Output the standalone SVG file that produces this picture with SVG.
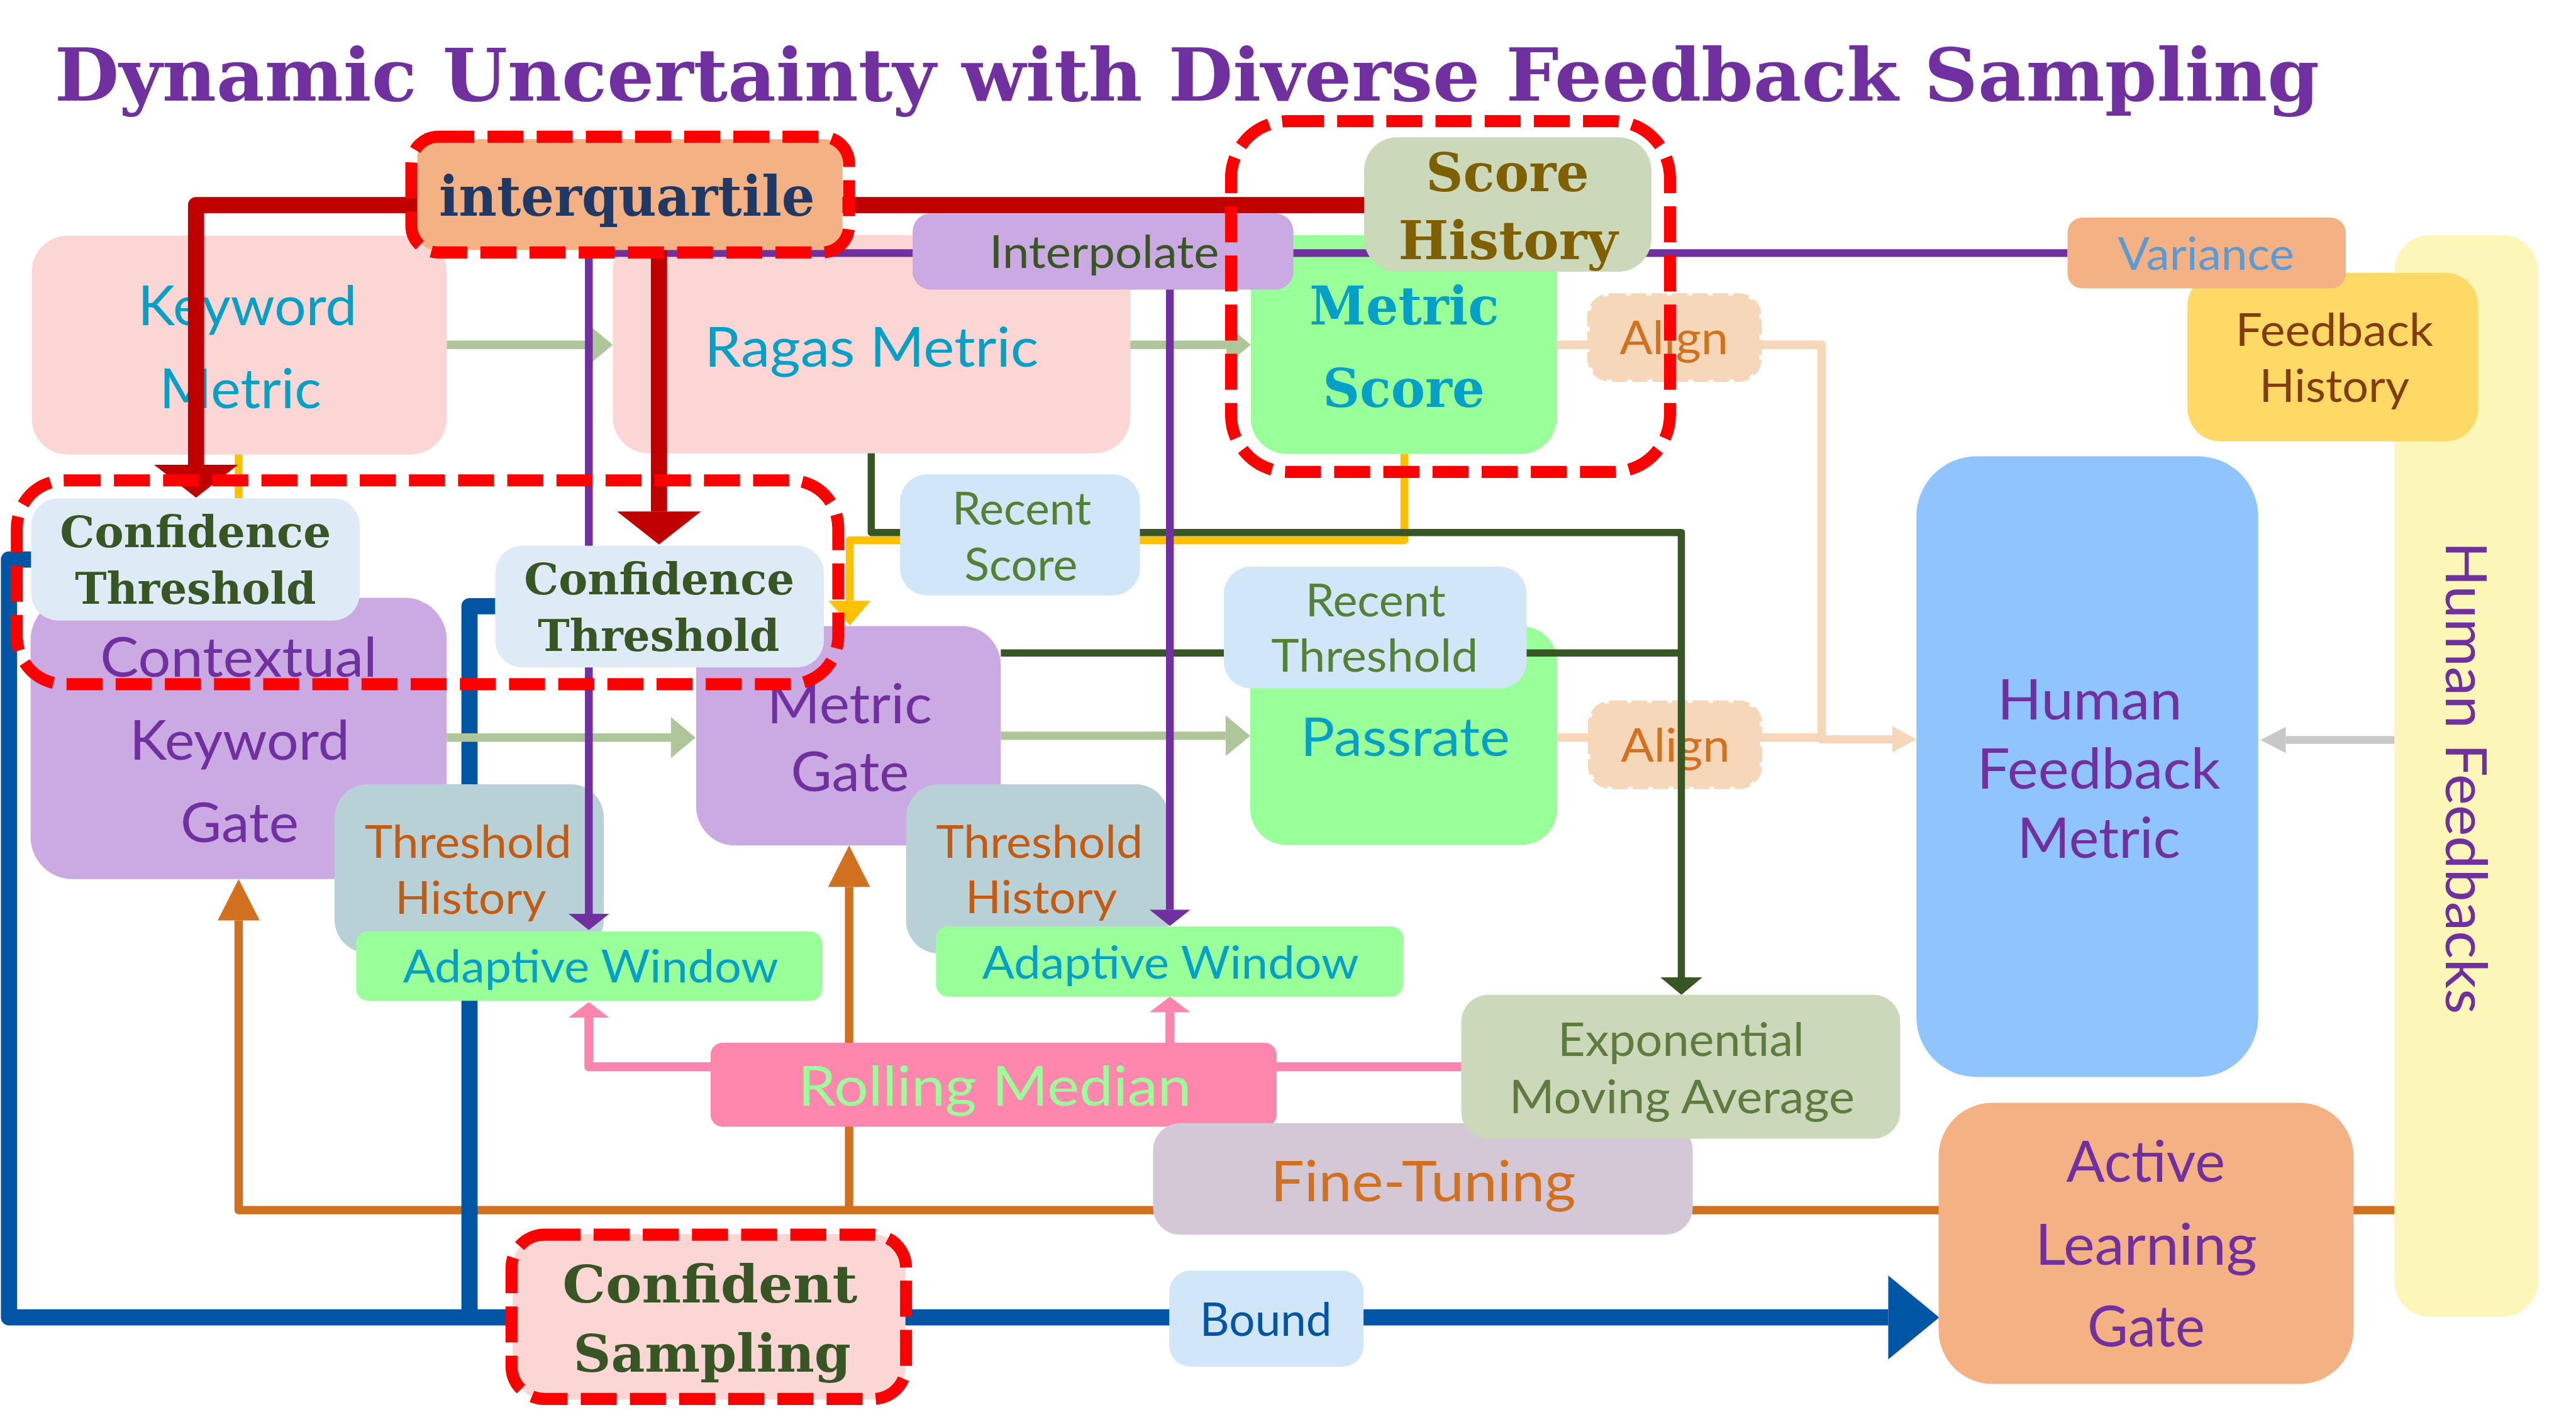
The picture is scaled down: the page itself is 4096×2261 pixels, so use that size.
<svg xmlns="http://www.w3.org/2000/svg" width="4096" height="2261" viewBox="0 0 4096 2261">
<style>
.r{font-family:"Lato","Noto Sans",sans-serif;}
.b{font-family:"DejaVu Serif","Liberation Serif",serif;font-weight:bold;}
.ln{fill:none;stroke-linejoin:round;}
.hl{fill:none;stroke:#FF0000;stroke-width:20;stroke-dasharray:60 22;}
</style>
<defs>
<marker id="aRed" markerUnits="userSpaceOnUse" markerWidth="56" markerHeight="140" refX="0" refY="70" orient="auto" overflow="visible"><path d="M0,0 L55,70 L0,140 z" fill="#C00000"/></marker>
<marker id="aPur" markerUnits="userSpaceOnUse" markerWidth="28" markerHeight="68" refX="0" refY="34" orient="auto" overflow="visible"><path d="M0,0 L27,34 L0,68 z" fill="#7030A0"/></marker>
<marker id="aYel" markerUnits="userSpaceOnUse" markerWidth="42" markerHeight="70" refX="0" refY="35" orient="auto" overflow="visible"><path d="M0,0 L41,35 L0,70 z" fill="#FFC000"/></marker>
<marker id="aSage" markerUnits="userSpaceOnUse" markerWidth="42" markerHeight="68" refX="0" refY="34" orient="auto" overflow="visible"><path d="M0,0 L41,34 L0,68 z" fill="#AFC69A"/></marker>
<marker id="aDG" markerUnits="userSpaceOnUse" markerWidth="30" markerHeight="70" refX="0" refY="35" orient="auto" overflow="visible"><path d="M0,0 L29,35 L0,70 z" fill="#375623"/></marker>
<marker id="aPeach" markerUnits="userSpaceOnUse" markerWidth="40" markerHeight="44" refX="0" refY="22" orient="auto" overflow="visible"><path d="M0,0 L40,22 L0,44 z" fill="#F6D7BA"/></marker>
<marker id="aGray" markerUnits="userSpaceOnUse" markerWidth="42" markerHeight="44" refX="0" refY="22" orient="auto" overflow="visible"><path d="M0,0 L42,22 L0,44 z" fill="#C8C8C8"/></marker>
<marker id="aOr" markerUnits="userSpaceOnUse" markerWidth="70" markerHeight="70" refX="0" refY="35" orient="auto" overflow="visible"><path d="M0,0 L69,35 L0,70 z" fill="#D1701F"/></marker>
<marker id="aPink" markerUnits="userSpaceOnUse" markerWidth="27" markerHeight="68" refX="0" refY="34" orient="auto" overflow="visible"><path d="M0,0 L26,34 L0,68 z" fill="#FF85AE"/></marker>
<marker id="aBlue" markerUnits="userSpaceOnUse" markerWidth="86" markerHeight="140" refX="0" refY="70" orient="auto" overflow="visible"><path d="M0,0 L85,70 L0,140 z" fill="#0055A5"/></marker>
</defs>
<g transform="scale(0.95345)">
<rect x="0" y="0" width="4296" height="2371" fill="#FFFFFF"/>
<text id="title" class="b" x="91" y="168" font-size="121" fill="#7030A0" textLength="3777" lengthAdjust="spacingAndGlyphs">Dynamic Uncertainty with Diverse Feedback Sampling</text>

<!-- bottom nodes -->
<g id="human-feedbacks">
<rect x="3993" y="392" width="240" height="1804" rx="60" fill="#FCF6B9"/>
<text class="r" transform="translate(4079,903) rotate(90)" font-size="96" fill="#7030A0" textLength="788" lengthAdjust="spacingAndGlyphs">Human Feedbacks</text>
</g>
<g id="keyword-metric">
<rect x="53" y="393" width="692" height="365" rx="60" fill="#FCD5D5"/>
<text class="r" x="230" y="542" font-size="92" fill="#05A0C8" textLength="365" lengthAdjust="spacingAndGlyphs">Keyword</text>
<text class="r" x="266" y="681" font-size="92" fill="#05A0C8" textLength="270" lengthAdjust="spacingAndGlyphs">Metric</text>
</g>
<g id="ragas-metric">
<rect x="1022" y="392" width="863" height="364" rx="60" fill="#FCD5D5"/>
<text class="r" x="1175" y="611" font-size="92" fill="#05A0C8" textLength="557" lengthAdjust="spacingAndGlyphs">Ragas Metric</text>
</g>
<g id="metric-score">
<rect x="2086" y="392" width="510" height="365" rx="60" fill="#99FF99"/>
<text class="b" x="2184" y="541" font-size="88" fill="#05A0C8" textLength="316" lengthAdjust="spacingAndGlyphs">Metric</text>
<text class="b" x="2206" y="679" font-size="88" fill="#05A0C8" textLength="270" lengthAdjust="spacingAndGlyphs">Score</text>
</g>
<g id="passrate">
<rect x="2085" y="1044" width="512" height="365" rx="60" fill="#99FF99"/>
<text class="r" x="2169" y="1261" font-size="90" fill="#05A0C8" textLength="349" lengthAdjust="spacingAndGlyphs">Passrate</text>
</g>
<g id="contextual-keyword-gate">
<rect x="51" y="997" width="694" height="469" rx="70" fill="#CBA9E3"/>
<text class="r" x="167" y="1129" font-size="92" fill="#7030A0" textLength="462" lengthAdjust="spacingAndGlyphs">Contextual</text>
<text class="r" x="216" y="1267" font-size="92" fill="#7030A0" textLength="367" lengthAdjust="spacingAndGlyphs">Keyword</text>
<text class="r" x="301" y="1404" font-size="92" fill="#7030A0" textLength="197" lengthAdjust="spacingAndGlyphs">Gate</text>
</g>
<g id="metric-gate">
<rect x="1161" y="1044" width="508" height="366" rx="65" fill="#CBA9E3"/>
<text class="r" x="1279" y="1206" font-size="92" fill="#7030A0" textLength="275" lengthAdjust="spacingAndGlyphs">Metric</text>
<text class="r" x="1319" y="1319" font-size="92" fill="#7030A0" textLength="197" lengthAdjust="spacingAndGlyphs">Gate</text>
</g>

<!-- connectors -->
<g id="connectors">
<g id="connectors-back" class="ln">
<path d="M2596,575 H3038 V1233 H3156" stroke="#F6D7BA" stroke-width="14" marker-end="url(#aPeach)"/>
<path d="M2597,1230 H3038" stroke="#F6D7BA" stroke-width="14"/>
<path d="M3993,1234 H3812" stroke="#C8C8C8" stroke-width="13" marker-end="url(#aGray)"/>
<path d="M3993,2018 H398 V1535" stroke="#D1701F" stroke-width="14" marker-end="url(#aOr)"/>
<path d="M1416,2018 V1479" stroke="#D1701F" stroke-width="14" marker-end="url(#aOr)"/>
<path d="M2437,1779 H982 V1697" stroke="#FF85AE" stroke-width="15" marker-end="url(#aPink)"/>
<path d="M1951,1779 V1688" stroke="#FF85AE" stroke-width="15" marker-end="url(#aPink)"/>
<path d="M52,933 H15 V2197 H3149" stroke="#0055A5" stroke-width="27" marker-end="url(#aBlue)"/>
<path d="M826,1011 H783 V2197" stroke="#0055A5" stroke-width="27"/>
<path d="M745,575 H981" stroke="#AFC69A" stroke-width="14" marker-end="url(#aSage)"/>
<path d="M1885,575 H2045" stroke="#AFC69A" stroke-width="14" marker-end="url(#aSage)"/>
<path d="M745,1230 H1119" stroke="#AFC69A" stroke-width="14" marker-end="url(#aSage)"/>
<path d="M1669,1227 H2044" stroke="#AFC69A" stroke-width="14" marker-end="url(#aSage)"/>
<path d="M398,758 V831" stroke="#FFC000" stroke-width="13"/>
<path d="M2342,757 V901 H1417 V1002" stroke="#FFC000" stroke-width="13" marker-end="url(#aYel)"/>
</g>
</g>

<!-- mid nodes -->
<g id="align-1">
<rect x="2651" y="493" width="283" height="140" rx="35" fill="#F6D7BA" stroke="#F6D7BA" stroke-width="8" stroke-dasharray="26 8"/>
<text class="r" x="2701" y="591" font-size="77" fill="#D2721E" textLength="181" lengthAdjust="spacingAndGlyphs">Align</text>
</g>
<g id="align-2">
<rect x="2652" y="1172" width="283" height="140" rx="35" fill="#F6D7BA" stroke="#F6D7BA" stroke-width="8" stroke-dasharray="26 8"/>
<text class="r" x="2703" y="1270" font-size="77" fill="#D2721E" textLength="182" lengthAdjust="spacingAndGlyphs">Align</text>
</g>
<g id="threshold-history-1">
<rect x="558" y="1308" width="449" height="281" rx="55" fill="#B8D1D6"/>
<text class="r" x="608" y="1431" font-size="76" fill="#C55A11" textLength="345" lengthAdjust="spacingAndGlyphs">Threshold</text>
<text class="r" x="659" y="1524" font-size="76" fill="#C55A11" textLength="252" lengthAdjust="spacingAndGlyphs">History</text>
</g>
<g id="threshold-history-2">
<rect x="1511" y="1308" width="438" height="282" rx="55" fill="#B8D1D6"/>
<text class="r" x="1561" y="1431" font-size="76" fill="#C55A11" textLength="345" lengthAdjust="spacingAndGlyphs">Threshold</text>
<text class="r" x="1610" y="1523" font-size="76" fill="#C55A11" textLength="253" lengthAdjust="spacingAndGlyphs">History</text>
</g>
<g id="adaptive-window-1">
<rect x="594" y="1553" width="777" height="116" rx="20" fill="#99FF99"/>
<text class="r" x="672" y="1638" font-size="75" fill="#05A0C8" textLength="626" lengthAdjust="spacingAndGlyphs">Adaptive Window</text>
</g>
<g id="adaptive-window-2">
<rect x="1561" y="1545" width="779" height="117" rx="20" fill="#99FF99"/>
<text class="r" x="1638" y="1632" font-size="75" fill="#05A0C8" textLength="628" lengthAdjust="spacingAndGlyphs">Adaptive Window</text>
</g>

<g id="connectors-front" class="ln">
<path d="M1453,756 V888 H2804 V1630" stroke="#375623" stroke-width="12" marker-end="url(#aDG)"/>
<path d="M1669,1089 H2804" stroke="#375623" stroke-width="12"/>
<path d="M3448,422 H982 V1524" stroke="#7030A0" stroke-width="13" marker-end="url(#aPur)"/>
<path d="M1951,422 V1517" stroke="#7030A0" stroke-width="13" marker-end="url(#aPur)"/>
<path d="M2275,342 H327 V775" stroke="#C00000" stroke-width="27" marker-end="url(#aRed)"/>
<path d="M1099,417 V853" stroke="#C00000" stroke-width="27" marker-end="url(#aRed)"/>
</g>

<!-- top nodes -->
<g id="interquartile">
<rect x="696" y="232" width="709" height="185" rx="30" fill="#F4B183"/>
<rect x="686" y="228" width="730" height="193" rx="45" class="hl"/>
<text class="b" x="732" y="360" font-size="92" fill="#1F3864" textLength="627" lengthAdjust="spacingAndGlyphs">interquartile</text>
</g>
<g id="interpolate">
<rect x="1522" y="356" width="635" height="127" rx="30" fill="#CBA9E3"/>
<text class="r" x="1650" y="447" font-size="76" fill="#375623" textLength="383" lengthAdjust="spacingAndGlyphs">Interpolate</text>
</g>
<g id="score-history">
<rect x="2275" y="229" width="479" height="224" rx="55" fill="#CBD8B9"/>
<text class="b" x="2378" y="319" font-size="88" fill="#7F6000" textLength="272" lengthAdjust="spacingAndGlyphs">Score</text>
<text class="b" x="2332" y="432" font-size="88" fill="#7F6000" textLength="366" lengthAdjust="spacingAndGlyphs">History</text>
</g>
<g id="feedback-history">
<rect x="3648" y="455" width="485" height="281" rx="55" fill="#FED966"/>
<text class="r" x="3728" y="577" font-size="75" fill="#843C0C" textLength="330" lengthAdjust="spacingAndGlyphs">Feedback</text>
<text class="r" x="3768" y="670" font-size="75" fill="#843C0C" textLength="250" lengthAdjust="spacingAndGlyphs">History</text>
</g>
<g id="variance">
<rect x="3448" y="363" width="464" height="118" rx="25" fill="#F4B183"/>
<text class="r" x="3532" y="450" font-size="76" fill="#5B9BD5" textLength="294" lengthAdjust="spacingAndGlyphs">Variance</text>
</g>
<g id="human-feedback-metric">
<rect x="3196" y="761" width="570" height="1035" rx="100" fill="#8FC5FC"/>
<text class="r" x="3331" y="1200" font-size="94" fill="#7030A0" textLength="308" lengthAdjust="spacingAndGlyphs">Human</text>
<text class="r" x="3297" y="1315" font-size="94" fill="#7030A0" textLength="406" lengthAdjust="spacingAndGlyphs">Feedback</text>
<text class="r" x="3364" y="1431" font-size="94" fill="#7030A0" textLength="272" lengthAdjust="spacingAndGlyphs">Metric</text>
</g>
<g id="confidence-threshold-1">
<rect x="52" y="831" width="548" height="204" rx="45" fill="#DEEAF6"/>
<text class="b" x="100" y="913" font-size="73" fill="#375623" textLength="452" lengthAdjust="spacingAndGlyphs">Confidence</text>
<text class="b" x="125" y="1007" font-size="73" fill="#375623" textLength="402" lengthAdjust="spacingAndGlyphs">Threshold</text>
</g>
<g id="confidence-threshold-2">
<rect x="826" y="910" width="548" height="203" rx="45" fill="#DEEAF6"/>
<text class="b" x="874" y="991" font-size="73" fill="#375623" textLength="451" lengthAdjust="spacingAndGlyphs">Confidence</text>
<text class="b" x="897" y="1086" font-size="73" fill="#375623" textLength="403" lengthAdjust="spacingAndGlyphs">Threshold</text>
</g>
<g id="recent-score">
<rect x="1501" y="791" width="400" height="202" rx="45" fill="#D2E6FA"/>
<text class="r" x="1588" y="875" font-size="76" fill="#548235" textLength="232" lengthAdjust="spacingAndGlyphs">Recent</text>
<text class="r" x="1608" y="968" font-size="76" fill="#548235" textLength="189" lengthAdjust="spacingAndGlyphs">Score</text>
</g>
<g id="recent-threshold">
<rect x="2041" y="945" width="505" height="203" rx="45" fill="#D2E6FA"/>
<text class="r" x="2177" y="1028" font-size="75" fill="#548235" textLength="234" lengthAdjust="spacingAndGlyphs">Recent</text>
<text class="r" x="2120" y="1120" font-size="75" fill="#548235" textLength="345" lengthAdjust="spacingAndGlyphs">Threshold</text>
</g>
<g id="rolling-median">
<rect x="1185" y="1739" width="944" height="140" rx="20" fill="#FF86AD"/>
<text class="r" x="1331" y="1844" font-size="92" fill="#99FF99" textLength="656" lengthAdjust="spacingAndGlyphs">Rolling Median</text>
</g>
<g id="fine-tuning">
<rect x="1923" y="1873" width="900" height="186" rx="45" fill="#D4C8D6"/>
<text class="r" x="2119" y="2003" font-size="93" fill="#D1701F" textLength="509" lengthAdjust="spacingAndGlyphs">Fine-Tuning</text>
</g>
<g id="exponential-moving-average">
<rect x="2437" y="1659" width="732" height="240" rx="45" fill="#CBD8B9"/>
<text class="r" x="2598" y="1761" font-size="77" fill="#5F7B3F" textLength="411" lengthAdjust="spacingAndGlyphs">Exponential</text>
<text class="r" x="2517" y="1856" font-size="77" fill="#5F7B3F" textLength="576" lengthAdjust="spacingAndGlyphs">Moving Average</text>
</g>
<g id="bound">
<rect x="1950" y="2119" width="324" height="160" rx="35" fill="#D2E6FA"/>
<text class="r" x="2001" y="2228" font-size="77" fill="#0055A5" textLength="220" lengthAdjust="spacingAndGlyphs">Bound</text>
</g>
<g id="active-learning-gate">
<rect x="3233" y="1839" width="692" height="469" rx="90" fill="#F4B183"/>
<text class="r" x="3446" y="1971" font-size="95" fill="#7030A0" textLength="265" lengthAdjust="spacingAndGlyphs">Active</text>
<text class="r" x="3394" y="2109" font-size="95" fill="#7030A0" textLength="370" lengthAdjust="spacingAndGlyphs">Learning</text>
<text class="r" x="3481" y="2246" font-size="95" fill="#7030A0" textLength="196" lengthAdjust="spacingAndGlyphs">Gate</text>
</g>
<g id="confident-sampling">
<rect x="855" y="2058" width="655" height="276" rx="55" fill="#FCD5D5"/>
<rect x="853" y="2059" width="658" height="274" rx="55" class="hl"/>
<text class="b" x="938" y="2172" font-size="86" fill="#375623" textLength="492" lengthAdjust="spacingAndGlyphs">Confident</text>
<text class="b" x="956" y="2288" font-size="86" fill="#375623" textLength="463" lengthAdjust="spacingAndGlyphs">Sampling</text>
</g>

<!-- highlight frames -->
<g id="highlights">
<rect x="2053" y="202" width="732" height="585" rx="95" class="hl"/>
<rect x="28" y="801" width="1370" height="340" rx="80" class="hl"/>
</g>
</g>
</svg>
